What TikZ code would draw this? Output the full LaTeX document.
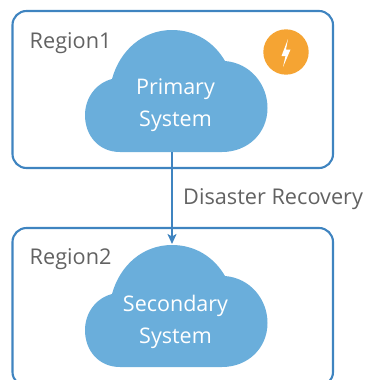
\documentclass[tikz,border=0pt]{standalone}
\usepackage{fontspec}
\setmainfont{Open Sans}
\usetikzlibrary{arrows.meta}
\definecolor{edgeblue}{HTML}{3F84C0}
\definecolor{cloudblue}{HTML}{6AAEDB}
\definecolor{boltorange}{HTML}{F5A433}
\definecolor{labelgray}{HTML}{626262}
\tikzset{
  region/.style={draw=edgeblue,line width=2.1pt,rounded corners=14pt},
  cloudfill/.style={fill=cloudblue,draw=none},
  cloudtext/.style={text=white,font=\fontsize{21.5}{31.5}\selectfont,align=center,inner sep=0pt},
  regionlabel/.style={text=labelgray,font=\fontsize{21.7}{26}\selectfont,anchor=base west,inner sep=0pt},
  flow/.style={draw=edgeblue,line width=2.1pt,-{Stealth[length=10pt,width=9pt,inset=2.5pt]}}
}
\newcommand{\cloudshape}[1]{%
  \fill[cloudfill,shift={(0,#1)}] (120,152)
    .. controls (99,152) and (85,136) .. (85,115)
    .. controls (85,98) and (96,83) .. (112,79)
    .. controls (120,50) and (143,30) .. (172,30)
    .. controls (195,30) and (214,42) .. (225,61)
    .. controls (250,63) and (267.5,84) .. (267.5,108)
    .. controls (267.5,133) and (248,152) .. (222,152) -- cycle;}
\begin{document}
\begin{tikzpicture}[x=1pt,y=-1pt]
\useasboundingbox (0,0) rectangle (364,380);
\clip (0,0) rectangle (364,380);
\draw[region] (12.5,11) rectangle (333,168);
\draw[region] (12.5,228) rectangle (333,386);
\cloudshape{0}
\cloudshape{215}
\node[regionlabel] (r1) at (29.5,48.5) {Region1};
\node[regionlabel] (r2) at (29.5,264.5) {Region2};
\node[cloudtext] (prim) at (175.5,105) {Primary\\System};
\node[cloudtext] (sec) at (175.5,322) {Secondary\\System};
\node[regionlabel] (dr) at (183,204.5) {Disaster Recovery};
\coordinate (pb) at (172,152);
\coordinate (st) at (172,244);
\draw[flow] (pb) -- (st);
\fill[boltorange] (286,52) circle (22.7);
\fill[white] (288,39) -- (281.5,56) -- (285.5,56) -- (283,67) -- (290.5,49.5) -- (286,49.5) -- cycle;
\end{tikzpicture}
\end{document}
